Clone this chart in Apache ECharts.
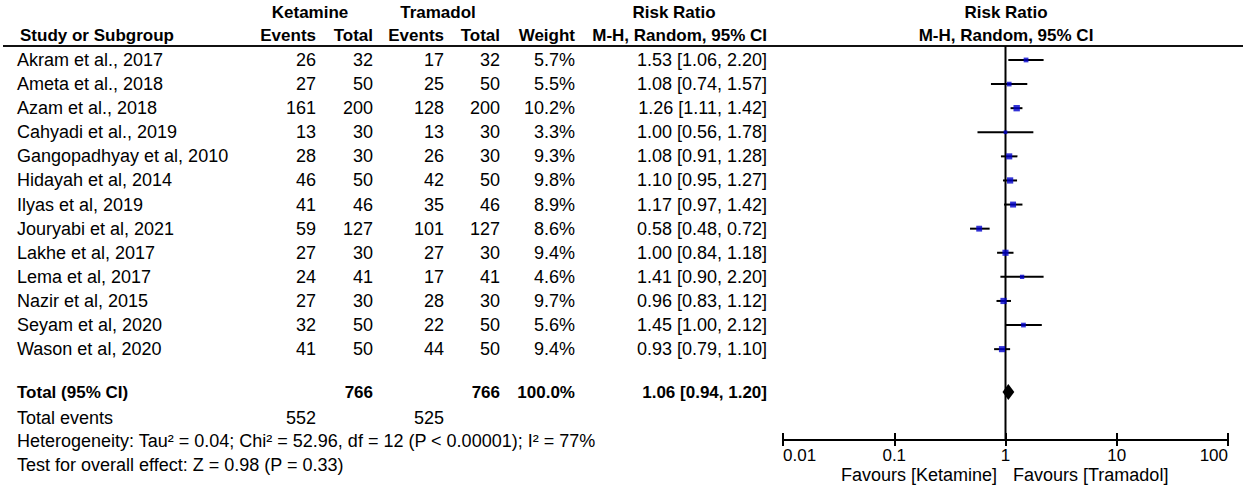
<!DOCTYPE html>
<html>
<head>
<meta charset="utf-8">
<script src="https://cdn.jsdelivr.net/npm/echarts@6/dist/echarts.min.js"></script>
<style>
html, body { margin: 0; padding: 0; background: #fff; }
#main { width: 1248px; height: 490px; }
</style>
</head>
<body>
<div id="main"></div>
<script>
// study data
const studies = ['Akram et al., 2017', 'Ameta et al., 2018', 'Azam et al., 2018', 'Cahyadi et al., 2019',
  'Gangopadhyay et al, 2010', 'Hidayah et al, 2014', 'Ilyas et al, 2019', 'Jouryabi et al, 2021',
  'Lakhe et al, 2017', 'Lema et al, 2017', 'Nazir et al, 2015', 'Seyam et al, 2020', 'Wason et al, 2020']
const ketEvents = [26, 27, 161, 13, 28, 46, 41, 59, 27, 24, 27, 32, 41]
const ketTotal = [32, 50, 200, 30, 30, 50, 46, 127, 30, 41, 30, 50, 50]
const tramEvents = [17, 25, 128, 13, 26, 42, 35, 101, 27, 17, 28, 22, 44]
const tramTotal = [32, 50, 200, 30, 30, 50, 46, 127, 30, 41, 30, 50, 50]
const weights = [5.7, 5.5, 10.2, 3.3, 9.3, 9.8, 8.9, 8.6, 9.4, 4.6, 9.7, 5.6, 9.4]
const rr = [1.53, 1.08, 1.26, 1.00, 1.08, 1.10, 1.17, 0.58, 1.00, 1.41, 0.96, 1.45, 0.93]
const ciLow = [1.06, 0.74, 1.11, 0.56, 0.91, 0.95, 0.97, 0.48, 0.84, 0.90, 0.83, 1.00, 0.79]
const ciHigh = [2.20, 1.57, 1.42, 1.78, 1.28, 1.27, 1.42, 0.72, 1.18, 2.20, 1.12, 2.12, 1.10]

const totalKet = 766
const totalTram = 766
const totalEventsKet = 552
const totalEventsTram = 525
const totalRR = [1.06, 0.94, 1.20]
const heterogeneity = 'Heterogeneity: Tau² = 0.04; Chi² = 52.96, df = 12 (P < 0.00001); I² = 77%'
const overallEffect = 'Test for overall effect: Z = 0.98 (P = 0.33)'
const axisTicks = [0.01, 0.1, 1, 10, 100]

const FONT = '"Liberation Sans", Arial, sans-serif'
const totalRow = studies.length + 0.78
const yMin = -0.58, yMax = 15.77

// columns of the left table (right edges)
const COL = {name: 17, ketEv: 316, ketTot: 373, trEv: 444, trTot: 500, weight: 575, rr: 767}

function txt (x, y, s, align, bold) {
    return {
        type: 'text', x: x, y: y, silent: true,
        style: {
            text: s, font: bold ? 'bold 17px ' + FONT : '18px ' + FONT,
            fill: '#000', align: align, verticalAlign: 'middle'
        }
    }
}
const fmtRR = (a, b, c) => a.toFixed(2) + ' [' + b.toFixed(2) + ', ' + c.toFixed(2) + ']'

let myChart = echarts.init(document.getElementById('main'), null, {renderer: 'svg'})

let option = {
    animation: false,
    grid: {left: 783, right: 20, top: 46, bottom: 50},
    xAxis: [{
        type: 'log', logBase: 10, min: 0.01, max: 100, position: 'bottom',
        axisLine: {onZero: false, lineStyle: {color: '#000', width: 2}},
        axisTick: {length: 6, lineStyle: {color: '#000', width: 2}},
        splitLine: {show: false},
        axisLabel: {
            fontSize: 17, fontFamily: FONT, color: '#000', margin: 7,
            alignMinLabel: 'left', alignMaxLabel: 'right',
            formatter: v => String(axisTicks.find(t => Math.abs(t - v) < t * 1e-6) ?? v)
        }
    }, {
        type: 'log', logBase: 10, min: 0.01, max: 100, position: 'bottom',
        axisLine: {show: false, onZero: false},
        axisTick: {inside: true, length: 7, lineStyle: {color: '#000', width: 2}},
        axisLabel: {show: false},
        splitLine: {show: false}
    }],
    yAxis: {type: 'value', inverse: true, min: yMin, max: yMax, show: false},
    graphic: [
        {type: 'line', silent: true, shape: {x1: 3, y1: 46, x2: 1243, y2: 46}, style: {stroke: '#111', lineWidth: 2}},
        txt(20, 35, 'Study or Subgroup', 'left', true),
        txt(310, 12, 'Ketamine', 'center', true),
        txt(438, 12, 'Tramadol', 'center', true),
        txt(COL.ketEv, 35, 'Events', 'right', true),
        txt(COL.ketTot, 35, 'Total', 'right', true),
        txt(COL.trEv, 35, 'Events', 'right', true),
        txt(COL.trTot, 35, 'Total', 'right', true),
        txt(COL.weight, 35, 'Weight', 'right', true),
        txt(674, 12, 'Risk Ratio', 'center', true),
        txt(COL.rr, 35, 'M-H, Random, 95% CI', 'right', true),
        txt(1006, 12, 'Risk Ratio', 'center', true),
        txt(1006, 35, 'M-H, Random, 95% CI', 'center', true),
        txt(COL.name, 418, 'Total events', 'left', false),
        txt(COL.ketEv, 418, String(totalEventsKet), 'right', false),
        txt(COL.trEv, 418, String(totalEventsTram), 'right', false),
        txt(COL.name, 441, heterogeneity, 'left', false),
        txt(COL.name, 465, overallEffect, 'left', false),
        txt(997, 475, 'Favours [Ketamine]', 'right', false),
        txt(1013, 475, 'Favours [Tramadol]', 'left', false)
    ],
    series: [{
        // line of no effect
        type: 'line', silent: true, symbol: 'none', z: 1,
        data: [[1, yMin], [1, yMax]],
        lineStyle: {color: '#000', width: 2}
    }, {
        // confidence intervals
        type: 'custom', silent: true, z: 2,
        data: studies.map((s, i) => [ciLow[i], ciHigh[i], i]),
        encode: {x: [0, 1], y: 2},
        renderItem: (params, api) => {
            let p1 = api.coord([api.value(0), api.value(2)])
            let p2 = api.coord([api.value(1), api.value(2)])
            return {type: 'line', shape: {x1: p1[0], y1: p1[1], x2: p2[0], y2: p2[1]}, style: {stroke: '#000', lineWidth: 2}}
        }
    }, {
        // point estimates, square size from weight
        type: 'scatter', silent: true, z: 5,
        symbol: 'rect',
        symbolSize: v => 2.0 * Math.sqrt(v[2]),
        itemStyle: {color: '#0000cc'},
        data: studies.map((s, i) => [rr[i], i, weights[i]])
    }, {
        // pooled diamond
        type: 'custom', silent: true, z: 5,
        data: [[totalRR[0], totalRR[1], totalRR[2], totalRow]],
        encode: {x: [0, 1, 2], y: 3},
        renderItem: (params, api) => {
            let y = api.value(3)
            let c = api.coord([api.value(0), y])
            let l = api.coord([api.value(1), y])
            let r = api.coord([api.value(2), y])
            return {
                type: 'polygon',
                shape: {points: [[l[0], c[1]], [c[0], c[1] - 8], [r[0], c[1]], [c[0], c[1] + 8]]},
                style: {fill: '#000'}
            }
        }
    }, {
        // table rows
        type: 'custom', silent: true,
        data: studies.map((s, i) => [1, i]),
        encode: {x: 0, y: 1},
        renderItem: (params, api) => {
            let i = params.dataIndex
            let y = api.coord([1, api.value(1)])[1]
            return {
                type: 'group',
                children: [
                    txt(COL.name, y, studies[i], 'left'),
                    txt(COL.ketEv, y, String(ketEvents[i]), 'right'),
                    txt(COL.ketTot, y, String(ketTotal[i]), 'right'),
                    txt(COL.trEv, y, String(tramEvents[i]), 'right'),
                    txt(COL.trTot, y, String(tramTotal[i]), 'right'),
                    txt(COL.weight, y, weights[i].toFixed(1) + '%', 'right'),
                    txt(COL.rr, y, fmtRR(rr[i], ciLow[i], ciHigh[i]), 'right')
                ]
            }
        }
    }, {
        // total row
        type: 'custom', silent: true,
        data: [[1, totalRow]],
        encode: {x: 0, y: 1},
        renderItem: (params, api) => {
            let y = api.coord([1, api.value(1)])[1]
            return {
                type: 'group',
                children: [
                    txt(COL.name, y, 'Total (95% CI)', 'left', true),
                    txt(COL.ketTot, y, String(totalKet), 'right', true),
                    txt(COL.trTot, y, String(totalTram), 'right', true),
                    txt(COL.weight, y, '100.0%', 'right', true),
                    txt(COL.rr, y, fmtRR(totalRR[0], totalRR[1], totalRR[2]), 'right', true)
                ]
            }
        }
    }]
}
myChart.setOption(option)
</script>
</body>
</html>
